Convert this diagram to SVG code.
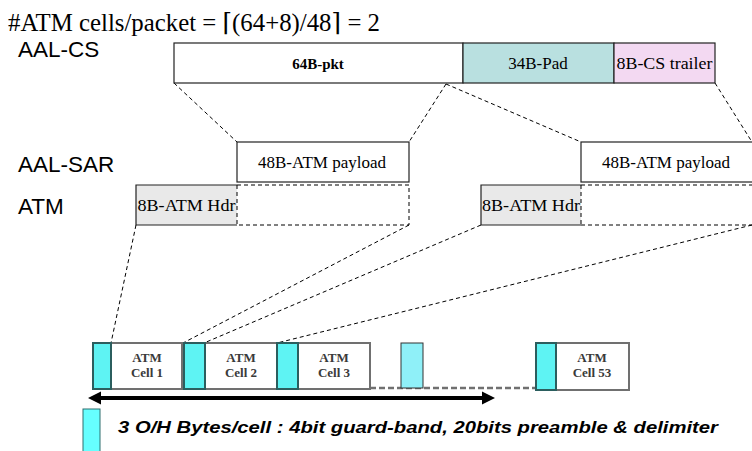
<svg xmlns="http://www.w3.org/2000/svg" width="752" height="451" viewBox="0 0 752 451">
<style>
.lbl{font-family:"Liberation Sans",Arial,sans-serif;font-size:22.5px;fill:#000}
.tm{font-family:"Liberation Serif","Times New Roman",serif;font-size:17px;fill:#000}
.box{stroke:#222;stroke-width:1.2}
.dash{fill:none;stroke:#000;stroke-width:1;stroke-dasharray:4 3}
.guard{fill:#5ef3f3;stroke:#2b5e5e;stroke-width:2}
.cell{fill:#fff;stroke:#707070;stroke-width:2}
.ct{font-family:"Liberation Serif","Times New Roman",serif;font-size:13px;font-weight:bold;fill:#3a3a3a;text-anchor:middle}
</style>
<rect width="752" height="451" fill="#fff"/>
<g id="title">
<text x="8" y="31" font-family="'Liberation Serif','DejaVu Serif',serif" font-size="25" textLength="372" lengthAdjust="spacingAndGlyphs">#ATM cells/packet = ⌈(64+8)/48⌉ = 2</text>
</g>
<g id="labels">
<text class="lbl" x="18" y="57">AAL-CS</text>
<text class="lbl" x="18" y="172">AAL-SAR</text>
<text class="lbl" x="18" y="214">ATM</text>
</g>
<g id="connectors">
<line class="dash" x1="174" y1="83" x2="237" y2="142"/>
<line class="dash" x1="446" y1="84" x2="409" y2="142"/>
<line class="dash" x1="446" y1="84" x2="581" y2="142"/>
<line class="dash" x1="715" y1="83" x2="752" y2="142"/>
<line class="dash" x1="136" y1="225" x2="111" y2="343"/>
<line class="dash" x1="409" y1="225" x2="183" y2="343"/>
<line class="dash" x1="481" y1="225" x2="204" y2="343"/>
<line class="dash" x1="752" y1="225" x2="277" y2="343"/>
</g>
<g id="aal-cs">
<rect class="box" x="174" y="43" width="289" height="40" fill="#fff"/>
<text x="318" y="69" font-family="Liberation Serif,'Times New Roman',serif" font-size="15" font-weight="bold" text-anchor="middle">64B-pkt</text>
<rect class="box" x="463" y="43" width="151" height="40" fill="#b9e0e0"/>
<text class="tm" x="538" y="69" text-anchor="middle">34B-Pad</text>
<rect class="box" x="614" y="43" width="101" height="40" fill="#f3d9f2"/>
<text class="tm" x="664.5" y="69" text-anchor="middle" textLength="96" lengthAdjust="spacingAndGlyphs">8B-CS trailer</text>
</g>
<g id="sar1">
<rect class="box" x="237" y="142" width="172" height="40" fill="#fff"/>
<text class="tm" x="322" y="168" text-anchor="middle">48B-ATM payload</text>
</g>
<g id="sar2">
<rect class="box" x="581" y="142" width="180" height="40" fill="#fff"/>
<text class="tm" x="666" y="168" text-anchor="middle">48B-ATM payload</text>
</g>
<g id="atm1">
<rect x="136" y="185" width="101" height="40" fill="#e9e9e9"/>
<path d="M237 185 H136 V225 H237" fill="none" stroke="#222" stroke-width="1.2"/>
<line class="dash" x1="237" y1="185" x2="237" y2="225"/>
<text class="tm" x="186.5" y="211" text-anchor="middle" textLength="98" lengthAdjust="spacingAndGlyphs">8B-ATM Hdr</text>
<path class="dash" d="M237 185 H409 V225 H237"/>
</g>
<g id="atm2">
<rect x="481" y="185" width="100" height="40" fill="#e9e9e9"/>
<path d="M581 185 H481 V225 H581" fill="none" stroke="#222" stroke-width="1.2"/>
<line class="dash" x1="581" y1="185" x2="581" y2="225"/>
<text class="tm" x="531" y="211" text-anchor="middle" textLength="98" lengthAdjust="spacingAndGlyphs">8B-ATM Hdr</text>
<path class="dash" d="M581 185 H752 M581 225 H752"/>
</g>
<g id="cells">
<line x1="370" y1="388" x2="537" y2="388" stroke="#707070" stroke-width="2.5" stroke-dasharray="6 3"/>
<rect class="cell" x="93" y="343" width="89" height="46"/>
<rect class="guard" x="93" y="343" width="18" height="46"/>
<text class="ct" x="147" y="362">ATM</text>
<text class="ct" x="147" y="377">Cell 1</text>
<rect class="cell" x="184" y="343" width="93" height="46"/>
<rect class="guard" x="184" y="343" width="21" height="46"/>
<text class="ct" x="241" y="362">ATM</text>
<text class="ct" x="241" y="377">Cell 2</text>
<rect class="cell" x="277" y="343" width="93" height="46"/>
<rect class="guard" x="277" y="343" width="21" height="46"/>
<text class="ct" x="334" y="362">ATM</text>
<text class="ct" x="334" y="377">Cell 3</text>
<rect x="401" y="343" width="22" height="45" fill="#8ff0f8" stroke="#333" stroke-width="1"/>
<rect class="cell" x="536" y="343" width="93" height="47"/>
<rect class="guard" x="536" y="343" width="20" height="47"/>
<text class="ct" x="592" y="362">ATM</text>
<text class="ct" x="592" y="377">Cell 53</text>
</g>
<g id="span-arrow">
<line x1="100" y1="398" x2="483" y2="398" stroke="#000" stroke-width="4"/>
<polygon points="88,398 101,391.5 101,404.5" fill="#000"/>
<polygon points="495,398 482,391.5 482,404.5" fill="#000"/>
</g>
<g id="legend">
<rect x="83" y="409" width="17" height="44" fill="#66ffff" stroke="#2e6e6e" stroke-width="1"/>
<text x="118" y="433" font-family="Liberation Sans,Arial,sans-serif" font-size="17" font-weight="bold" font-style="italic" textLength="600" lengthAdjust="spacingAndGlyphs">3 O/H Bytes/cell : 4bit guard-band, 20bits preamble &amp; delimiter</text>
</g>
</svg>
